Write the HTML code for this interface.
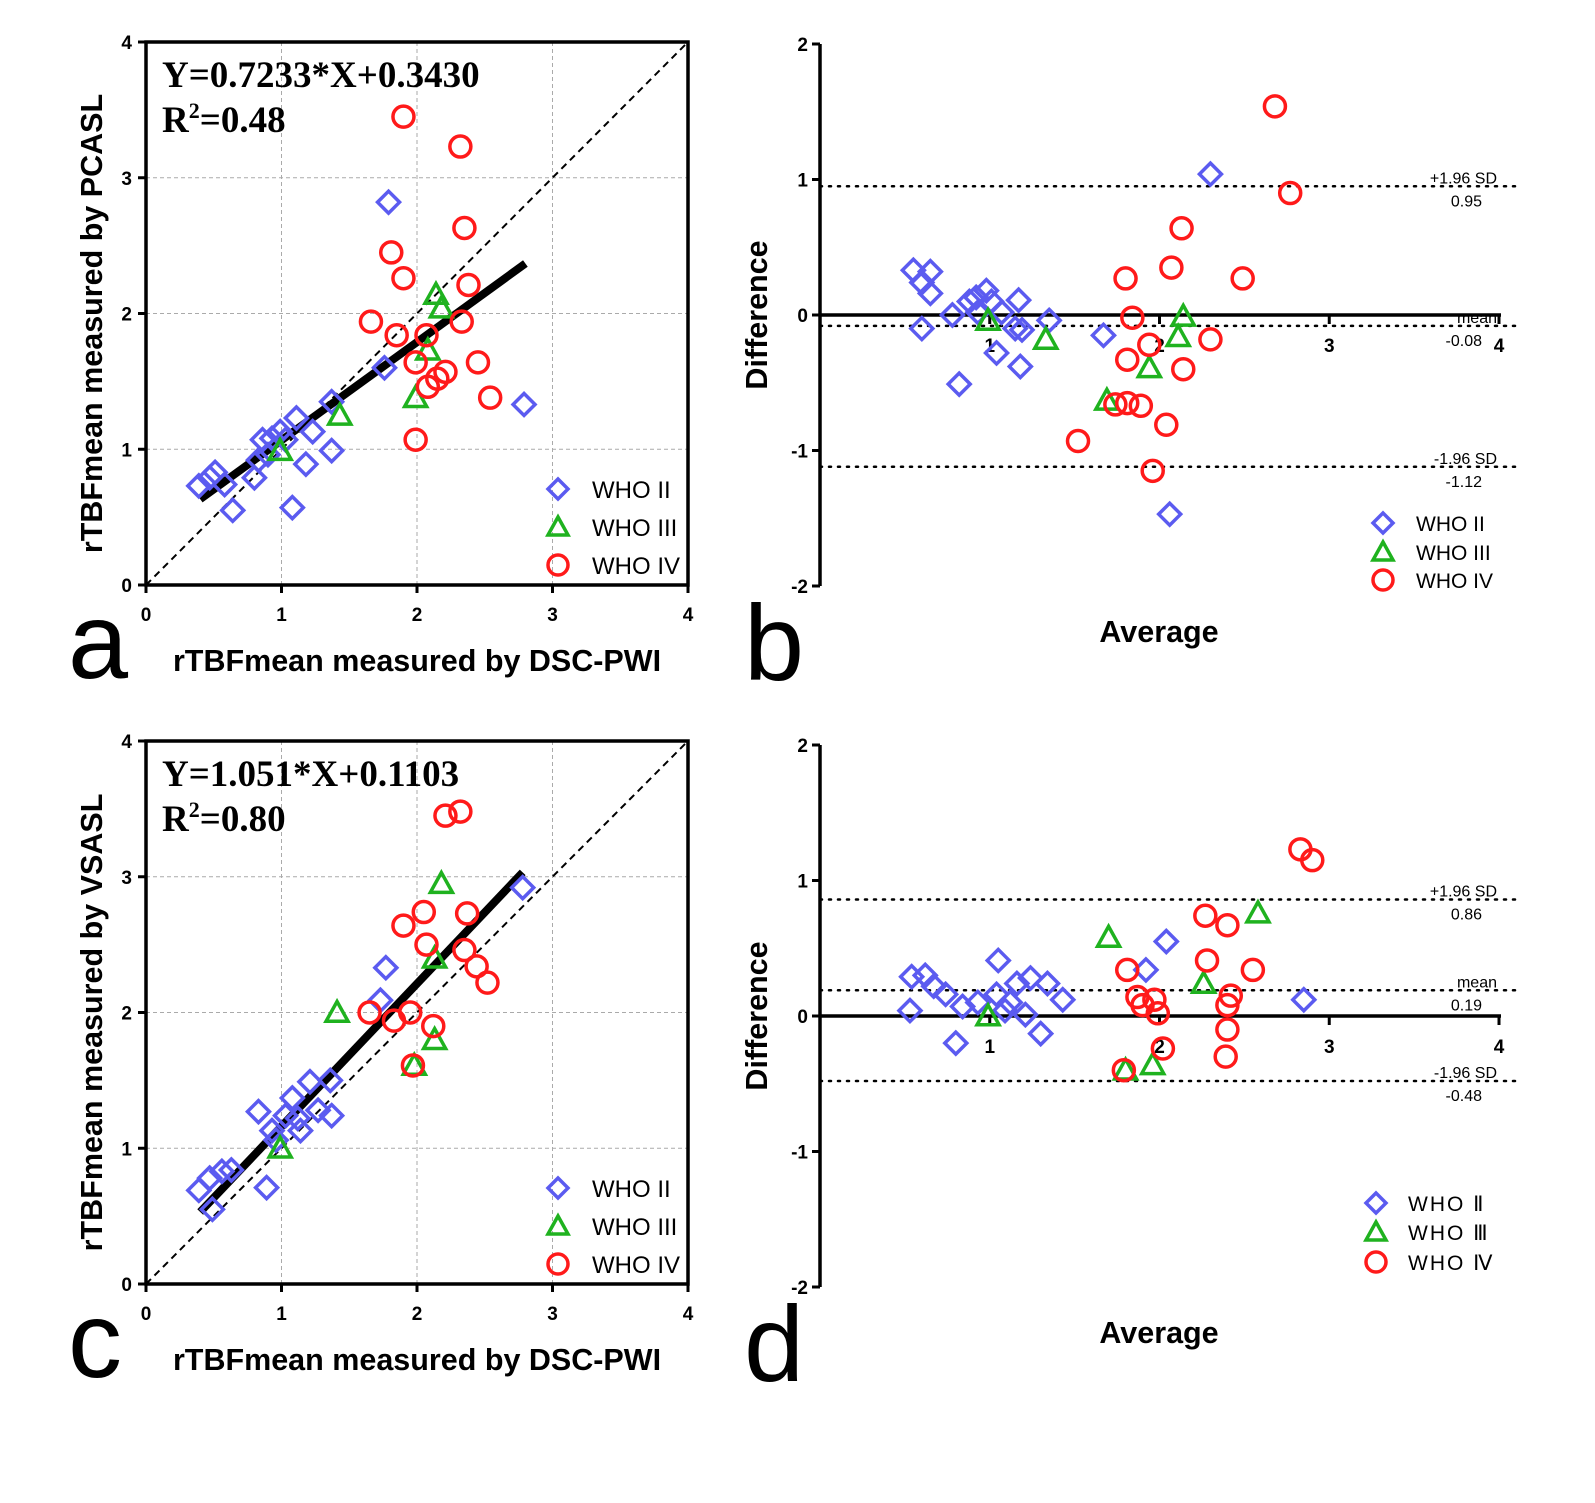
<!DOCTYPE html>
<html><head><meta charset="utf-8"><style>
html,body{margin:0;padding:0;background:#fff;}
</style></head><body>
<svg id="fig" width="1595" height="1498" viewBox="0 0 1595 1498" xmlns="http://www.w3.org/2000/svg" font-family="Liberation Sans, sans-serif"></svg>
<script>
// ---- Panel a data (DSC-PWI vs PCASL) ----
const aII_x=[0.39,0.47,0.51,0.58,0.64,0.80,0.83,0.86,0.90,0.93,0.99,1.03,1.08,1.11,1.18,1.23,1.37,1.37,1.76,1.79,2.79];
const aII_y=[0.73,0.79,0.83,0.74,0.55,0.79,0.92,1.07,0.96,1.08,1.13,1.07,0.57,1.23,0.89,1.13,0.99,1.35,1.60,2.82,1.33];
const aIII_x=[0.99,1.43,1.99,2.08,2.14,2.18];
const aIII_y=[0.99,1.25,1.38,1.73,2.14,2.04];
const aIV_x=[1.90,2.32,2.35,1.81,1.90,2.38,1.66,1.85,2.33,2.07,1.99,2.45,2.21,2.15,2.08,2.54,1.99];
const aIV_y=[3.45,3.23,2.63,2.45,2.26,2.21,1.94,1.84,1.94,1.84,1.64,1.64,1.57,1.52,1.46,1.38,1.07];
const aFit=[0.7233,0.3430], aFitRange=[0.4,2.8];
// ---- Panel b data (Bland-Altman) ----
const bII_x=[0.55,0.60,0.65,0.65,0.60,0.78,0.82,0.88,0.92,0.98,0.93,1.01,1.04,1.07,1.17,1.15,1.18,1.19,1.35,1.67,2.06,2.30];
const bII_y=[0.33,0.24,0.32,0.16,-0.10,0.00,-0.51,0.10,0.13,0.18,0.02,0.10,-0.28,0.02,0.11,-0.10,-0.38,-0.11,-0.04,-0.15,-1.47,1.04];
const bIII_x=[0.99,1.33,1.69,1.94,2.11,2.14];
const bIII_y=[-0.04,-0.18,-0.63,-0.39,-0.16,-0.01];
const bIV_x=[2.68,2.77,2.13,2.07,2.49,1.80,1.84,1.94,2.30,1.81,2.14,1.74,1.81,1.89,2.04,1.52,1.96];
const bIV_y=[1.54,0.90,0.64,0.35,0.27,0.27,-0.02,-0.22,-0.18,-0.33,-0.40,-0.66,-0.65,-0.67,-0.81,-0.93,-1.15];
const bLines=[0.95,-0.08,-1.12];
const bLineLabels=[["+1.96 SD","0.95"],["mean","-0.08"],["-1.96 SD","-1.12"]];
// ---- Panel c data (DSC-PWI vs VSASL) ----
const cII_x=[0.39,0.47,0.49,0.56,0.63,0.83,0.89,0.93,0.96,1.03,1.08,1.12,1.14,1.21,1.27,1.36,1.37,1.73,1.77,2.78];
const cII_y=[0.69,0.78,0.55,0.83,0.84,1.27,0.71,1.13,1.06,1.24,1.37,1.22,1.13,1.49,1.28,1.50,1.24,2.09,2.33,2.92];
const cIII_x=[0.99,1.41,1.98,2.13,2.13,2.18];
const cIII_y=[1.00,2.00,1.61,1.80,2.40,2.95];
const cIV_x=[2.21,2.32,1.90,2.05,2.37,2.07,2.35,2.44,2.52,1.65,1.83,1.95,2.12,1.97];
const cIV_y=[3.45,3.48,2.64,2.74,2.73,2.50,2.46,2.34,2.22,2.00,1.94,2.00,1.90,1.61];
const cFit=[1.051,0.1103], cFitRange=[0.4,2.78];
// ---- Panel d data ----
const dII_x=[0.53,0.54,0.62,0.67,0.74,0.80,0.84,0.93,1.05,1.04,1.09,1.12,1.16,1.24,1.21,1.30,1.34,1.43,1.92,2.04,2.85];
const dII_y=[0.04,0.29,0.30,0.22,0.16,-0.20,0.07,0.10,0.41,0.16,0.04,0.10,0.24,0.28,0.01,-0.13,0.24,0.12,0.34,0.55,0.12];
const dIII_x=[0.99,1.70,1.80,1.96,2.26,2.58];
const dIII_y=[0.00,0.58,-0.40,-0.36,0.24,0.76];
const dIV_x=[2.83,2.90,2.27,2.40,2.28,2.55,1.81,1.87,1.90,1.97,1.99,2.02,2.42,2.40,2.40,2.39,1.79];
const dIV_y=[1.23,1.15,0.74,0.67,0.41,0.34,0.34,0.14,0.08,0.12,0.02,-0.24,0.15,0.08,-0.10,-0.30,-0.40];
const dLines=[0.86,0.19,-0.48];
const dLineLabels=[["+1.96 SD","0.86"],["mean","0.19"],["-1.96 SD","-0.48"]];
const ticks4=["0","1","2","3","4"];
const ticksBA=["2","1","0","-1","-2"];

const NS="http://www.w3.org/2000/svg";
const svg=document.getElementById('fig');
function mk(tag,attrs,parent,txt){const e=document.createElementNS(NS,tag);for(const k in attrs)e.setAttribute(k,attrs[k]);if(txt!==undefined)e.textContent=txt;(parent||svg).appendChild(e);return e;}
const BLUE="#5b5bf0",GREEN="#1fb21f",RED="#ff1a1a";
const SERIF='"Liberation Serif", serif';
function diamond(g,x,y,s){const p=mk('polygon',{points:`${x},${y-s} ${x+s},${y} ${x},${y+s} ${x-s},${y}`,fill:'none',stroke:BLUE,'stroke-width':3.5},g);}
function tri(g,x,y,s){const p=mk('polygon',{points:`${x},${y-s} ${x+s},${y+s*0.8} ${x-s},${y+s*0.8}`,fill:'none',stroke:GREEN,'stroke-width':3.5},g);}
function circ(g,x,y,r){const p=mk('circle',{cx:x,cy:y,r:r,fill:'none',stroke:RED,'stroke-width':3.5},g);}
function series(g,sx,sy,II,III,IV){
  II[0].forEach((v,i)=>diamond(g,sx(v),sy(II[1][i]),11));
  III[0].forEach((v,i)=>tri(g,sx(v),sy(III[1][i]),11));
  IV[0].forEach((v,i)=>circ(g,sx(v),sy(IV[1][i]),10.5));
}

function scatterPanel(name,top,bottom,ylabel,eq,r2,II,III,IV,fit,range,letter){
  const g=mk('g',{});
  const L=146,R=688;
  const sx=v=>L+(R-L)*v/4, sy=v=>bottom-(bottom-top)*v/4;
  for(let i=1;i<4;i++){
    mk('line',{x1:sx(i),x2:sx(i),y1:top,y2:bottom,stroke:'#aaa','stroke-width':1,'stroke-dasharray':'4,3',},g);
    mk('line',{x1:L,x2:R,y1:sy(i),y2:sy(i),stroke:'#aaa','stroke-width':1,'stroke-dasharray':'4,3',},g);
  }
  mk('line',{x1:sx(0),y1:sy(0),x2:sx(4),y2:sy(4),stroke:'#000','stroke-width':2,'stroke-dasharray':'7,5',},g);
  mk('line',{x1:sx(range[0]),y1:sy(fit[0]*range[0]+fit[1]),x2:sx(range[1]),y2:sy(fit[0]*range[1]+fit[1]),stroke:'#000','stroke-width':8,},g);
  series(g,sx,sy,II,III,IV);
  mk('rect',{x:L,y:top,width:R-L,height:bottom-top,fill:'none',stroke:'#000','stroke-width':3.5,},g);
  ticks4.forEach((t,i)=>{
    mk('line',{x1:L-8,x2:L,y1:sy(i),y2:sy(i),stroke:'#000','stroke-width':3},g);
    mk('text',{x:L-14,y:sy(i)+7,'text-anchor':'end','font-size':19,'font-weight':'bold',},g,t);
    mk('line',{x1:sx(i),x2:sx(i),y1:bottom,y2:bottom+8,stroke:'#000','stroke-width':3},g);
    mk('text',{x:sx(i),y:bottom+36,'text-anchor':'middle','font-size':19,'font-weight':'bold',},g,t);
  });
  const cy=(top+bottom)/2+10;
  mk('text',{x:0,y:0,transform:`translate(102,${cy}) rotate(-90)`,'text-anchor':'middle','font-size':30.5,'font-weight':'bold',},g,ylabel);
  mk('text',{x:417,y:bottom+86,'text-anchor':'middle','font-size':30.5,'font-weight':'bold',},g,'rTBFmean measured by DSC-PWI');
  mk('text',{x:162,y:top+45,'font-size':37,'font-weight':'bold','font-family':SERIF,},g,eq);
  const t=mk('text',{x:162,y:top+90,'font-size':37,'font-weight':'bold','font-family':SERIF,},g);
  mk('tspan',{},t,'R');mk('tspan',{dy:-14,'font-size':22},t,'2');mk('tspan',{dy:14},t,'='+r2);
  const lg=mk('g',{},g);
  const ly=[bottom-96,bottom-58,bottom-20];
  diamond(lg,558,ly[0],10);tri(lg,558,ly[1],10);circ(lg,558,ly[2],10);
  ['WHO II','WHO III','WHO IV'].forEach((s,i)=>mk('text',{x:592,y:ly[i]+9,'font-size':24,},lg,s));
  mk('text',{x:68,y:bottom+93,'font-size':108,},g,letter);
}

function baPanel(name,top,bottom,II,III,IV,lines,labels,letter,roman){
  const g=mk('g',{});
  const X0=820,X1=1499;
  const sx=v=>X0+(X1-X0)*v/4, sy=v=>(top+bottom)/2-(bottom-top)/4*v;
  lines.forEach((v,i)=>{
    mk('line',{x1:X0,x2:1520,y1:sy(v),y2:sy(v),stroke:'#000','stroke-width':2.5,'stroke-dasharray':'2,7','stroke-linecap':'round',},g);
    mk('text',{x:1497,y:sy(v)-3,'text-anchor':'end','font-size':16,},g,labels[i][0]);
    mk('text',{x:1482,y:sy(v)+20,'text-anchor':'end','font-size':16,},g,labels[i][1]);
  });
  mk('line',{x1:X0,x2:X0,y1:top,y2:bottom,stroke:'#000','stroke-width':3.5,},g);
  mk('line',{x1:X0,x2:X1+2,y1:sy(0),y2:sy(0),stroke:'#000','stroke-width':3.5,},g);
  ticksBA.forEach((t,i)=>{const v=2-i;
    mk('line',{x1:X0-8,x2:X0,y1:sy(v),y2:sy(v),stroke:'#000','stroke-width':3},g);
    mk('text',{x:X0-12,y:sy(v)+7,'text-anchor':'end','font-size':19,'font-weight':'bold',},g,t);
  });
  ticks4.slice(1).forEach((t,i)=>{const v=i+1;
    mk('line',{x1:sx(v),x2:sx(v),y1:sy(0),y2:sy(0)+9,stroke:'#000','stroke-width':3},g);
    mk('text',{x:sx(v),y:sy(0)+37,'text-anchor':'middle','font-size':19,'font-weight':'bold',},g,t);
  });
  series(g,sx,sy,II,III,IV);
  mk('text',{x:0,y:0,transform:`translate(767,${sy(0)}) rotate(-90)`,'text-anchor':'middle','font-size':30.5,'font-weight':'bold',},g,'Difference');
  mk('text',{x:1159,y:bottom+56,'text-anchor':'middle','font-size':30.5,'font-weight':'bold',},g,'Average');
  const lg=mk('g',{},g);
  const lx=roman?1376:1383, tx=roman?1408:1416;
  const ly=roman?[bottom-84,bottom-55,bottom-25]:[bottom-63,bottom-34,bottom-6];
  diamond(lg,lx,ly[0],10);tri(lg,lx,ly[1],10);circ(lg,lx,ly[2],10);
  const names=roman?['WHO Ⅱ','WHO Ⅲ','WHO Ⅳ']:['WHO II','WHO III','WHO IV'];
  names.forEach((s,i)=>mk('text',{x:tx,y:ly[i]+8,'font-size':21,'letter-spacing':roman?2:0,},lg,s));
  mk('text',{x:744,y:bottom+94,'font-size':108,},g,letter);
}

scatterPanel('panel-a',42,585,'rTBFmean measured by PCASL','Y=0.7233*X+0.3430','0.48',[aII_x,aII_y],[aIII_x,aIII_y],[aIV_x,aIV_y],aFit,aFitRange,'a');
baPanel('panel-b',44,586,[bII_x,bII_y],[bIII_x,bIII_y],[bIV_x,bIV_y],bLines,bLineLabels,'b',false);
scatterPanel('panel-c',741,1284,'rTBFmean measured by VSASL','Y=1.051*X+0.1103','0.80',[cII_x,cII_y],[cIII_x,cIII_y],[cIV_x,cIV_y],cFit,cFitRange,'c');
baPanel('panel-d',745,1287,[dII_x,dII_y],[dIII_x,dIII_y],[dIV_x,dIV_y],dLines,dLineLabels,'d',true);
</script>
</body></html>
